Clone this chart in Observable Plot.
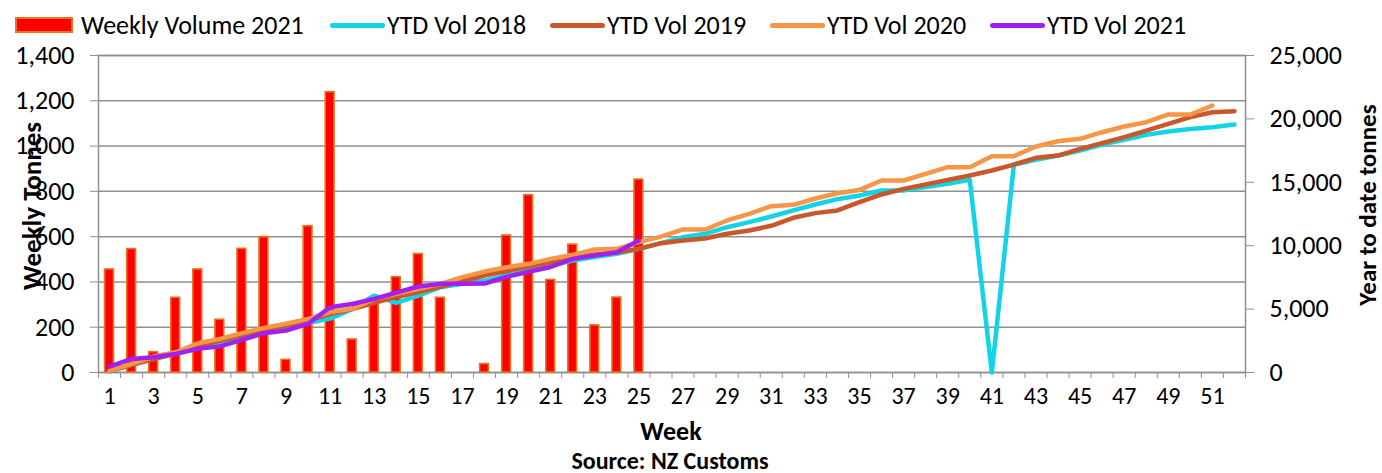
<!DOCTYPE html>
<html>
<head>
<meta charset="utf-8">
<script src="https://cdn.jsdelivr.net/npm/d3@7"></script>
<script src="https://cdn.jsdelivr.net/npm/@observablehq/plot@0.6"></script>
<style>
  body { margin:0; width:1382px; height:473px; position:relative; overflow:hidden; background:#fff;
         font-family: Carlito, Calibri, Lato, "Liberation Sans", sans-serif; color:#000; }
  .leg { position:absolute; top:11px; height:28px; display:flex; align-items:center; font-size:26px; white-space:nowrap; }
  .sw-bar { width:58px; height:16px; background:#FF0000; border:2px solid #E8731A; box-sizing:border-box; margin-right:8px; }
  .sw-line { width:55px; height:5px; border-radius:3px; margin-right:2px; }
  .lbl { position:absolute; font-weight:bold; font-size:27px; white-space:nowrap; line-height:1; }
  #chart { position:absolute; left:0; top:40px; }
</style>
</head>
<body>
<div id="legend"></div>
<div id="chart"></div>
<div class="lbl" id="ylab" style="left:31px; top:206px; transform:translate(-50%,-50%) rotate(-90deg);">Weekly Tonnes</div>
<div class="lbl" id="y2lab" style="left:1367px; top:205px; transform:translate(-50%,-50%) rotate(-90deg); font-size:25px;">Year to date tonnes</div>
<div class="lbl" id="xlab" style="left:671px; top:431px; transform:translate(-50%,-50%); font-size:26px;">Week</div>
<div class="lbl" id="src" style="left:670px; top:461px; transform:translate(-50%,-50%); font-size:24px;">Source: NZ Customs</div>
<script>
// ---- data ----
const weeks = [1,2,3,4,5,6,7,8,9,10,11,12,13,14,15,16,17,18,19,20,21,22,23,24,25,26,
               27,28,29,30,31,32,33,34,35,36,37,38,39,40,41,42,43,44,45,46,47,48,49,50,51,52];
const weekly2021 = [455, 545, 90, 330, 455, 233, 546, 598, 56, 646, 1238, 146, 310, 421, 523, 330, 0, 37,
                    605, 783, 409, 565, 208, 331, 852];
const ytd2018 = [100, 600, 1100, 1500, 1900, 2250, 2700, 3200, 3500, 3900, 4250, 5000, 6070, 5490, 6070, 6730,
                 6990, 7250, 7650, 8040, 8440, 8830, 9100, 9360, 9750, 10200, 10670, 10940, 11460, 11860, 12300,
                 12780, 13250, 13670, 13960, 14350, 14350, 14620, 14880, 15190, 0, 16400, 16770, 17110, 17510,
                 17980, 18350, 18740, 19000, 19200, 19350, 19550];
const ytd2019 = [120, 600, 1050, 1500, 2100, 2500, 2950, 3400, 3700, 4100, 4600, 5000, 5500, 5950, 6350, 6750,
                 7200, 7650, 8000, 8350, 8700, 9050, 9300, 9460, 9760, 10200, 10410, 10570, 10940, 11200, 11570,
                 12200, 12570, 12780, 13430, 14040, 14480, 14830, 15190, 15540, 15930, 16400, 16930, 17110, 17640,
                 18090, 18560, 19080, 19610, 20140, 20530, 20610];
const ytd2020 = [150, 680, 1260, 1600, 2310, 2650, 3100, 3520, 3840, 4230, 4760, 5020, 5810, 6200, 6600, 6990,
                 7520, 7960, 8300, 8570, 8960, 9280, 9700, 9750, 10280, 10720, 11280, 11280, 11990, 12510, 13120,
                 13220, 13720, 14140, 14400, 15140, 15140, 15670, 16190, 16190, 17060, 17060, 17820, 18240, 18430,
                 18950, 19400, 19740, 20350, 20350, 21060];
const ytd2021 = [470, 1070, 1200, 1470, 1870, 2060, 2580, 3100, 3310, 3840, 5150, 5400, 5810, 6300, 6780, 6990,
                 6990, 7010, 7540, 7950, 8320, 8960, 9230, 9490, 10410];
const leftTicks = [0, 200, 400, 600, 800, 1000, 1200, 1400];
const rightTicks = [0, 5000, 10000, 15000, 20000, 25000];
const seriesNames = ["Weekly Volume 2021", "YTD Vol 2018", "YTD Vol 2019", "YTD Vol 2020", "YTD Vol 2021"];
const seriesColors = ["#FF0000", "#13D3E6", "#C9572A", "#F79646", "#A020F0"];

// ---- legend ----
const legendX = [15, 330, 550, 770, 990];
const legend = document.getElementById("legend");
seriesNames.forEach((name, i) => {
  const item = document.createElement("div");
  item.className = "leg";
  item.style.left = legendX[i] + "px";
  const sw = document.createElement("div");
  if (i === 0) { sw.className = "sw-bar"; }
  else { sw.className = "sw-line"; sw.style.background = seriesColors[i]; }
  item.appendChild(sw);
  const t = document.createElement("span");
  t.textContent = name;
  item.appendChild(t);
  legend.appendChild(item);
});

// ---- chart ----
const k = 1400 / 25000; // secondary axis -> primary axis
const bars = weekly2021.map((v, i) => ({week: weeks[i], value: v})).filter(d => d.value > 0);
const toLine = (arr) => arr.map((v, i) => ({week: weeks[i], value: v * k}));
const lines = [ytd2018, ytd2019, ytd2020, ytd2021].map(toLine);
const boundaries = [0, ...weeks].map(w => w + 0.5);
const oddWeeks = weeks.filter(w => w % 2 === 1);
const grid = "#8f8f8f";
const fmt = d3.format(",");

const chart = Plot.plot({
  width: 1382,
  height: 405,
  marginTop: 15,
  marginBottom: 73,
  marginLeft: 98,
  marginRight: 137,
  style: {fontFamily: "Carlito, Calibri, Lato, 'Liberation Sans', sans-serif", fontSize: "20px", color: "#000", background: "transparent"},
  x: {type: "linear", domain: [0.5, 52.5], axis: null},
  y: {domain: [0, 1400], axis: null},
  marks: [
    Plot.ruleY(leftTicks, {stroke: grid, strokeWidth: 1.5}),
    Plot.frame({stroke: grid, strokeWidth: 1.5}),
    Plot.axisY(leftTicks, {anchor: "left", tickSize: 8, tickPadding: 16, tickFormat: fmt, label: null,
                           stroke: grid, fill: "#000", fontSize: 26}),
    Plot.axisY(rightTicks.map(v => v * k), {anchor: "right", tickSize: 8, tickPadding: 16,
                           tickFormat: d => fmt(Math.round(d / k)), label: null,
                           stroke: grid, fill: "#000", fontSize: 26}),
    Plot.axisX(boundaries, {anchor: "bottom", tickSize: 6, tickFormat: () => "", label: null, stroke: grid}),
    Plot.axisX(oddWeeks, {anchor: "bottom", tickSize: 0, tickPadding: 14, label: null, fill: "#000", fontSize: 24}),
    Plot.rectY(bars, {x1: d => d.week - 0.2, x2: d => d.week + 0.2, y: "value",
                      fill: "#FF0000", stroke: "#E8731A", strokeWidth: 1.6}),
    ...lines.map((data, i) => Plot.lineY(data, {x: "week", y: "value", stroke: seriesColors[i + 1],
                      strokeWidth: 4.5, strokeLinecap: "round", strokeLinejoin: "round"}))
  ]
});
document.getElementById("chart").appendChild(chart);
</script>
</body>
</html>
